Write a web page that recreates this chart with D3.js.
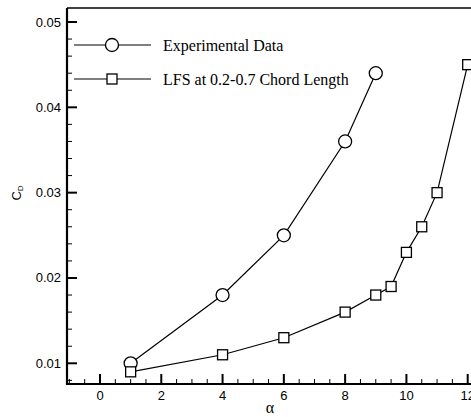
<!DOCTYPE html>
<html>
<head>
    <meta charset="UTF-8">
    <style>
        body { margin: 0; background: #fff; }
        svg { display: block; }
        .tick-label { font-family: "Liberation Sans", Arial, sans-serif; font-size: 13px; }
        .serif { font-family: "Liberation Serif", "Times New Roman", serif; }
    </style>
</head>
<body>
    <svg></svg>
    <script src="https://d3js.org/d3.v7.min.js"></script>
    <script>
        let width = 471, height = 417;

        // data
        let expAlpha = [1, 4, 6, 8, 9];
        let expCd = [0.010, 0.018, 0.025, 0.036, 0.044];
        let lfsAlpha = [1, 4, 6, 8, 9, 9.5, 10, 10.5, 11, 12];
        let lfsCd = [0.009, 0.011, 0.013, 0.016, 0.018, 0.019, 0.023, 0.026, 0.030, 0.045];
        let xTicks = [0, 2, 4, 6, 8, 10, 12];
        let yTicks = [0.01, 0.02, 0.03, 0.04, 0.05];
        let seriesNames = ["Experimental Data", "LFS at 0.2-0.7 Chord Length"];

        let svg = d3.select("svg")
            .attr("width", width)
            .attr("height", height);

        let x = d3.scaleLinear().domain([0, 12]).range([100, 467.7]);
        let y = d3.scaleLinear().domain([0.01, 0.05]).range([363.3, 22]);

        let plotLeft = 67, plotBottom = 384, plotTop = 8, plotRight = 480;

        // frame
        svg.append("line").attr("x1", plotLeft).attr("x2", plotRight).attr("y1", plotTop).attr("y2", plotTop)
            .attr("stroke", "black").attr("stroke-width", 1.5);
        svg.append("line").attr("x1", plotLeft).attr("x2", plotLeft).attr("y1", plotTop).attr("y2", plotBottom + 1)
            .attr("stroke", "black").attr("stroke-width", 2.2);
        svg.append("line").attr("x1", plotLeft - 1).attr("x2", plotRight).attr("y1", plotBottom).attr("y2", plotBottom)
            .attr("stroke", "black").attr("stroke-width", 2.2);

        // y ticks
        let yMinor = d3.range(0.008, 0.0515, 0.002);
        let isYMajor = d => yTicks.some(t => Math.abs(t - d) < 1e-6);
        svg.append("g").selectAll("line")
            .data(yMinor)
            .join("line")
            .attr("x1", plotLeft).attr("x2", d => isYMajor(d) ? plotLeft + 10 : plotLeft + 5)
            .attr("y1", d => y(d)).attr("y2", d => y(d))
            .attr("stroke", "black")
            .attr("stroke-width", d => isYMajor(d) ? 2 : 1);
        svg.append("g").selectAll("text")
            .data(yTicks)
            .join("text")
            .attr("class", "tick-label")
            .attr("x", 61).attr("y", d => y(d) + 4.5)
            .attr("text-anchor", "end")
            .text(d => d3.format(".2f")(d));

        // x ticks
        let xMinor = d3.range(-1, 12.01, 0.5);
        svg.append("g").selectAll("line")
            .data(xMinor)
            .join("line")
            .attr("x1", d => x(d)).attr("x2", d => x(d))
            .attr("y1", plotBottom).attr("y2", d => xTicks.includes(d) ? plotBottom - 10 : plotBottom - 5)
            .attr("stroke", "black")
            .attr("stroke-width", d => xTicks.includes(d) ? 2 : 1);
        svg.append("g").selectAll("text")
            .data(xTicks)
            .join("text")
            .attr("class", "tick-label")
            .attr("x", d => x(d)).attr("y", 400)
            .attr("text-anchor", "middle")
            .text(d => d);

        // axis titles
        svg.append("text")
            .attr("class", "serif")
            .attr("x", 270).attr("y", 413)
            .attr("text-anchor", "middle")
            .attr("font-size", 16)
            .text("α");
        let yt = svg.append("text")
            .attr("class", "tick-label")
            .attr("transform", "translate(21,193) rotate(-90)")
            .attr("text-anchor", "middle");
        yt.append("tspan").attr("font-size", 13).text("C");
        yt.append("tspan").attr("font-size", 8).attr("dy", 2).text("D");

        // series
        let line = d3.line().x(d => x(d[0])).y(d => y(d[1]));
        let expData = d3.zip(expAlpha, expCd);
        let lfsData = d3.zip(lfsAlpha, lfsCd);

        svg.append("path").datum(expData).attr("d", line)
            .attr("fill", "none").attr("stroke", "black").attr("stroke-width", 1.2);
        svg.append("path").datum(lfsData).attr("d", line)
            .attr("fill", "none").attr("stroke", "black").attr("stroke-width", 1.2);

        svg.append("g").selectAll("circle")
            .data(expData)
            .join("circle")
            .attr("cx", d => x(d[0])).attr("cy", d => y(d[1]))
            .attr("r", 6.5)
            .attr("fill", "white").attr("stroke", "black").attr("stroke-width", 1.3);
        svg.append("g").selectAll("rect")
            .data(lfsData)
            .join("rect")
            .attr("x", d => x(d[0]) - 5).attr("y", d => y(d[1]) - 5)
            .attr("width", 10).attr("height", 10)
            .attr("fill", "white").attr("stroke", "black").attr("stroke-width", 1.3);

        // legend
        let legY = [45, 79];
        let leg = svg.append("g");
        leg.selectAll("line")
            .data(legY)
            .join("line")
            .attr("x1", 74).attr("x2", 151)
            .attr("y1", d => d).attr("y2", d => d)
            .attr("stroke", "black").attr("stroke-width", 1.2);
        leg.append("circle").attr("cx", 112).attr("cy", legY[0]).attr("r", 6.5)
            .attr("fill", "white").attr("stroke", "black").attr("stroke-width", 1.3);
        leg.append("rect").attr("x", 107).attr("y", legY[1] - 5).attr("width", 10).attr("height", 10)
            .attr("fill", "white").attr("stroke", "black").attr("stroke-width", 1.3);
        leg.selectAll("text")
            .data(seriesNames)
            .join("text")
            .attr("class", "serif")
            .attr("x", 163).attr("y", (d, i) => legY[i] + 6)
            .attr("font-size", 16)
            .text(d => d);
    </script>
</body>
</html>
